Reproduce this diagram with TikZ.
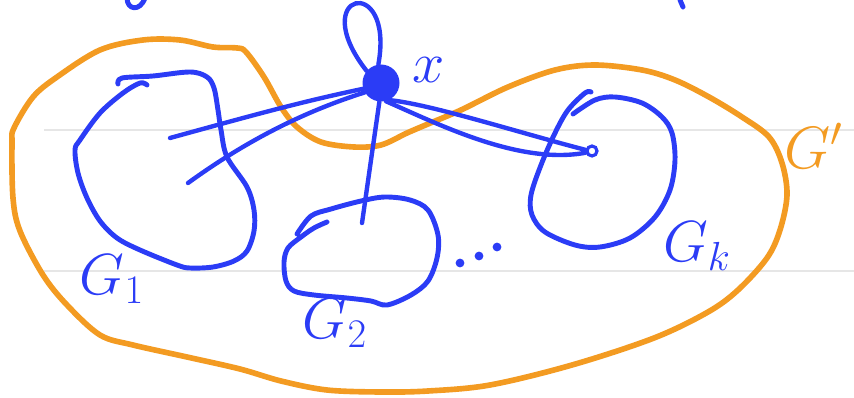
\documentclass[tikz,border=0pt]{standalone}
\usepackage{fix-cm}
\usepackage{tikz}
\usetikzlibrary{positioning}
\definecolor{penblue}{RGB}{43,60,246}
\definecolor{penorange}{RGB}{243,155,34}
\definecolor{ruling}{RGB}{230,230,230}

\begin{document}
\begin{tikzpicture}[x=0.02cm, y=-0.02cm,
    blob/.style={draw=penblue, line width=2.8pt, line cap=round, line join=round},
    hull/.style={draw=penorange, line width=3.2pt, line cap=round, line join=round},
    edge/.style={draw=penblue, line width=2.5pt, line cap=round},
    vertex/.style={circle, fill=penblue, inner sep=0pt, minimum size=0.74cm},
    endpt/.style={circle, draw=penblue, line width=1.8pt, inner sep=0pt, minimum size=0.2cm},
    glabel/.style={text=penblue, inner sep=0pt, font=\fontsize{33}{33}\selectfont},
    ruled/.style={draw=ruling, line width=0.8pt}
]
    \useasboundingbox (0,0) rectangle (854,398);
    % ruled paper
    \draw[ruled] (44,130) -- (854,130);
    \draw[ruled] (44,271) -- (854,271);
    % strokes cut off at the top edge
    \draw[blob] (127,-2) .. controls (127,10) and (140,12) .. (145,-2);
    \draw[blob] (680,0) -- (683,7);

    % the orange hull G'
    \draw[hull] plot[smooth cycle, tension=0.55] coordinates {
        (246,52) (264,77) (281,107) (297,127) (321,142) (354,147) (381,145)
        (407,133) (428,124) (461,110) (508,87) (555,70) (595,65) (642,70)
        (675,80) (709,97) (742,117) (769,137) (782,163) (787,195) (780,230)
        (767,258) (738,290) (708,312) (654,338) (572,365) (490,385) (428,391)
        (381,392) (327,390) (281,381) (240,369) (187,357)
        (133,345) (100,335) (67,305) (43,275) (20,231)
        (13,198) (12,143) (14,128) (33,97) (57,77) (100,50) (143,40) (180,40)
        (213,47) (237,48)};
    \node[glabel, text=penorange, font=\fontsize{34}{34}\selectfont] (gp) at (814,146) {$G'$};

    % components
    \draw[blob] plot[smooth, tension=0.55] coordinates {
        (118,84) (122,78) (153,76) (190,72) (207,77) (214,88) (218,110)
        (221,130) (227,157) (247,187) (254,210) (254,231) (247,251) (234,261)
        (213,267) (190,268) (177,265) (140,250) (117,238) (100,221) (87,198)
        (78,173) (75,150) (80,140) (100,113) (123,93) (140,83) (147,85)};
    \draw[blob] plot[smooth, tension=0.55] coordinates {
        (297,234) (311,216) (331,209) (361,201) (385,197) (410,200) (428,210)
        (438,235) (437,258) (428,281) (411,295) (387,305) (371,301) (347,298)
        (314,295) (294,291) (286,281) (284,262) (288,248) (301,237) (314,228)
        (327,222)};
    \draw[blob] plot[smooth, tension=0.55] coordinates {
        (591,92) (585,93) (568,110) (555,133) (541,165) (531,195) (532,215)
        (545,232) (575,245) (600,247) (630,238) (655,217) (670,190) (675,160)
        (672,133) (662,117) (642,103) (615,97) (595,100) (573,114)};

    \node[glabel] (g1) at (112,279) {$G_1$};
    \node[glabel] (g2) at (335,323) {$G_2$};
    \node[glabel] (gk) at (697,246) {$G_k$};
    \foreach \p in {(460,263),(479,256),(497,247)}
        \fill[penblue] \p circle (2.5pt);

    % the vertex x and its edges
    \node[vertex] (x) at (381,83) {};
    \node[glabel] (xl) at (429,70) {$x$};
    \node[endpt] (v) at (592,151) {};
    \coordinate (a1) at (170,138);
    \coordinate (a2) at (188,183);
    \coordinate (b) at (362,223);

    \draw[edge] (x.140) .. controls (305,-8) and (395,-28) .. (x.98);
    \draw[edge] (a1) .. controls (250,116) and (300,102) .. (x.198);
    \draw[edge] (a2) .. controls (246,141) and (303,112) .. (x.210);
    \draw[edge] (x.265) -- (b);
    \draw[edge] (x.-65) .. controls (430,104) and (520,133) .. (v.170);
    \draw[edge] (x.-75) .. controls (440,125) and (520,165) .. (v.195);
\end{tikzpicture}
\end{document}
